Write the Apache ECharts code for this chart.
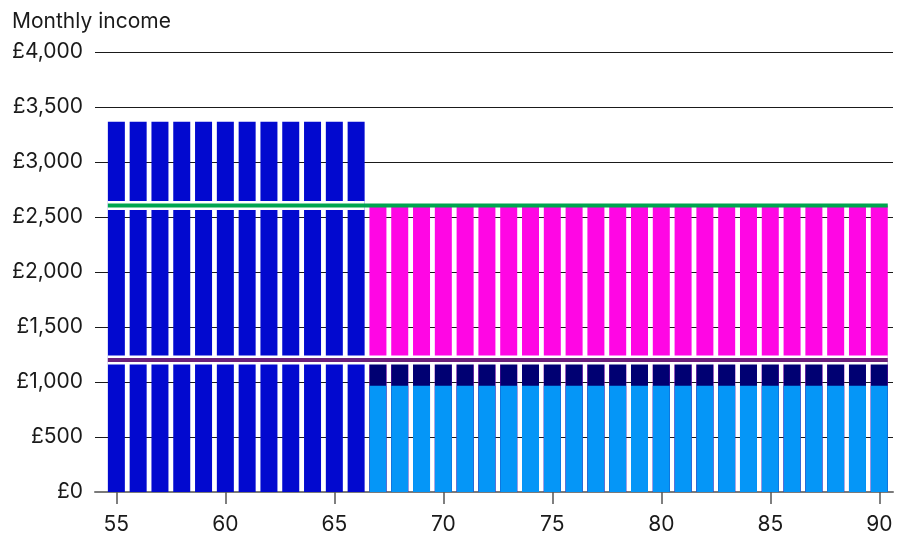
<!DOCTYPE html>
<html>
<head>
<meta charset="utf-8">
<script src="https://cdn.jsdelivr.net/npm/echarts@6/dist/echarts.min.js"></script>
<style>html,body{margin:0;padding:0;background:#fff}#c{width:908px;height:539px}</style>
</head>
<body>
<div id="c"></div>
<script>
// Ages along the x axis
const ages = [55,56,57,58,59,60,61,62,63,64,65,66,67,68,69,70,71,72,73,74,75,76,77,78,79,80,81,82,83,84,85,86,87,88,89,90];
// Bridging income before state pension age (ages 55-66)
const earlyIncome = [3365,3365,3365,3365,3365,3365,3365,3365,3365,3365,3365,3365,null,null,null,null,null,null,null,null,null,null,null,null,null,null,null,null,null,null,null,null,null,null,null,null];
// From 67: state pension (light blue), other fixed income (navy), pension drawdown (magenta)
const statePension = [null,null,null,null,null,null,null,null,null,null,null,null,965,965,965,965,965,965,965,965,965,965,965,965,965,965,965,965,965,965,965,965,965,965,965,965];
const otherIncome = [null,null,null,null,null,null,null,null,null,null,null,null,235,235,235,235,235,235,235,235,235,235,235,235,235,235,235,235,235,235,235,235,235,235,235,235];
const drawdown = [null,null,null,null,null,null,null,null,null,null,null,null,1405,1405,1405,1405,1405,1405,1405,1405,1405,1405,1405,1405,1405,1405,1405,1405,1405,1405,1405,1405,1405,1405,1405,1405];
// Reference levels
const targetIncome = 2605;
const essentialIncome = 1200;
// Axis ticks
const xTicks = [55,60,65,70,75,80,85,90];
const yTicks = [0,500,1000,1500,2000,2500,3000,3500,4000];

const font = 'Inter, "Noto Sans", sans-serif';
// cumulative tops so that overlapping bars look stacked
const cum = (...arrs) => ages.map((a,i) => {
  if (arrs[0][i] == null) return [a, '-'];
  return [a, arrs.reduce((s, arr) => s + (arr[i] || 0), 0)];
});
const halfW = 0.39;
let lastEarly = 0;
earlyIncome.forEach((v,i) => { if (v != null) lastEarly = i; });
const lineData = (v, endIdx) => [[ages[0]-halfW, v],[ages[endIdx]+halfW, v]];
const END = ages.length - 1;

const chart = echarts.init(document.getElementById('c'), null, {renderer:'canvas'});
const barBase = {type:'bar', barWidth:17, barGap:'-100%', silent:true, animation:false};
const lineBase = {type:'line', symbol:'none', silent:true, animation:false};
chart.setOption({
  animation:false,
  title:{text:'Monthly income', left:7, top:6, textStyle:{fontFamily:font, fontSize:21, fontWeight:'normal', color:'#1a1a1a'}},
  grid:{left:95, right:15, top:52, bottom:47},
  xAxis:{type:'value', min:54.02, max:90.63,
    axisLine:{lineStyle:{color:'#7a7a7a', width:2}},
    axisTick:{show:true, length:12, lineStyle:{color:'#555', width:1.5}, customValues:xTicks},
    axisLabel:{fontFamily:font, fontSize:21, color:'#1a1a1a', margin:22, customValues:xTicks},
    splitLine:{show:false}},
  yAxis:{type:'value', min:yTicks[0], max:yTicks[yTicks.length-1], interval:500,
    axisLine:{show:false}, axisTick:{show:false},
    axisLabel:{fontFamily:font, fontSize:21, color:'#1a1a1a', margin:12,
      formatter:v => '£' + v.toLocaleString('en-GB')},
    splitLine:{lineStyle:{color:'#1a1a1a', width:1}}},
  series:[
    Object.assign({}, barBase, {name:'early', data:cum(earlyIncome), itemStyle:{color:'#0209cf'}}),
    Object.assign({}, barBase, {name:'drawdown', data:cum(drawdown, otherIncome, statePension), itemStyle:{color:'#ff06e4'}}),
    Object.assign({}, barBase, {name:'other', data:cum(otherIncome, statePension), itemStyle:{color:'#000072'}}),
    Object.assign({}, barBase, {name:'state', data:cum(statePension), itemStyle:{color:'#0596f7'}}),
    Object.assign({}, lineBase, {data:lineData(essentialIncome, END), z:5, lineStyle:{color:'#ffffff', width:9, cap:'butt'}}),
    Object.assign({}, lineBase, {data:lineData(essentialIncome, END), z:6, lineStyle:{color:'#6c1f7b', width:4, cap:'butt'}}),
    Object.assign({}, lineBase, {data:lineData(targetIncome, lastEarly), z:5, lineStyle:{color:'#ffffff', width:9, cap:'butt'}}),
    Object.assign({}, lineBase, {data:lineData(targetIncome, END), z:6, lineStyle:{color:'#00a64f', width:4, cap:'butt'}})
  ]
});
</script>
</body>
</html>
